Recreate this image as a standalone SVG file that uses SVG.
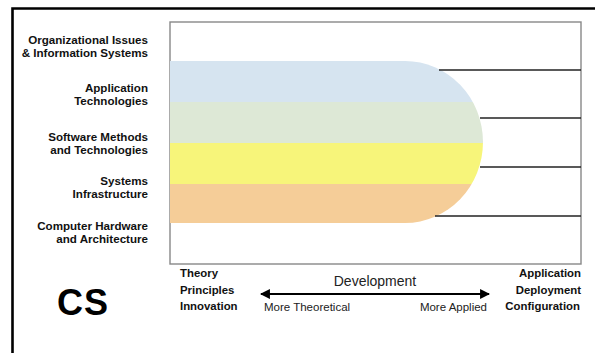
<svg xmlns="http://www.w3.org/2000/svg" width="595" height="353" viewBox="0 0 595 353">
<style>
.lbl{font-family:"Liberation Sans",Arial,sans-serif;font-weight:bold;font-size:11.6px;fill:#111;}
.bl{font-family:"Liberation Sans",Arial,sans-serif;font-weight:bold;font-size:11.4px;fill:#111;}
.reg{font-family:"Liberation Sans",Arial,sans-serif;fill:#222;}
.tick{stroke:#222;stroke-width:1.3;fill:none;}
</style>
<defs>
<clipPath id="cap"><path d="M170,61 H405 A78,81 0 0 1 405,223 H170 Z"/></clipPath>
<marker id="ah" viewBox="0 0 10 10" refX="9" refY="5" markerWidth="5" markerHeight="4.5" orient="auto-start-reverse" markerUnits="strokeWidth"><path d="M0,0 L10,5 L0,10 Z" fill="#000"/></marker>
</defs>
<rect x="0" y="0" width="595" height="353" fill="#fff"/>
<path d="M12.5,353 V8.5 H595" fill="none" stroke="#000" stroke-width="2.6"/>
<g id="chart">
<rect x="170" y="22" width="411" height="242" fill="none" stroke="#888" stroke-width="1.4"/>
<g clip-path="url(#cap)">
<rect x="168" y="60" width="330" height="42" fill="#d6e4f0"/>
<rect x="168" y="102" width="330" height="41" fill="#dde8d6"/>
<rect x="168" y="143" width="330" height="41" fill="#f7f57a"/>
<rect x="168" y="184" width="330" height="40" fill="#f5cd98"/>
</g>
<line class="tick" x1="439" y1="70" x2="581" y2="70"/>
<line class="tick" x1="480" y1="118" x2="581" y2="118"/>
<line class="tick" x1="480" y1="167" x2="581" y2="167"/>
<line class="tick" x1="435" y1="216" x2="581" y2="216"/>
</g>
<g id="layer-org" text-anchor="end"><text class="lbl" x="148" y="44">Organizational Issues</text><text class="lbl" x="148" y="57">&amp; Information Systems</text></g>
<g id="layer-app" text-anchor="end"><text class="lbl" x="148" y="92">Application</text><text class="lbl" x="148" y="105">Technologies</text></g>
<g id="layer-sw" text-anchor="end"><text class="lbl" x="148" y="141">Software Methods</text><text class="lbl" x="148" y="154">and Technologies</text></g>
<g id="layer-sys" text-anchor="end"><text class="lbl" x="148" y="185">Systems</text><text class="lbl" x="148" y="198">Infrastructure</text></g>
<g id="layer-hw" text-anchor="end"><text class="lbl" x="148" y="230">Computer Hardware</text><text class="lbl" x="148" y="243">and Architecture</text></g>
<g id="theory"><text class="bl" x="180" y="277">Theory</text><text class="bl" x="180" y="294">Principles</text><text class="bl" x="180" y="310">Innovation</text></g>
<g id="applied" text-anchor="end"><text class="bl" x="581" y="277">Application</text><text class="bl" x="581" y="294">Deployment</text><text class="bl" x="580" y="310">Configuration</text></g>
<g id="dev-labels"><text class="reg" x="375" y="286" font-size="14" text-anchor="middle">Development</text><text class="reg" x="264" y="311" font-size="11.5">More Theoretical</text><text class="reg" x="487" y="311" font-size="11.5" text-anchor="end">More Applied</text></g>
<g id="connectors"><line x1="261" y1="294" x2="489" y2="294" stroke="#000" stroke-width="2.2" marker-start="url(#ah)" marker-end="url(#ah)"/></g>
<g id="cs"><text x="83" y="315" font-family="Liberation Sans,Arial,sans-serif" font-weight="bold" font-size="36" letter-spacing="1" text-anchor="middle" fill="#000">CS</text></g>
</svg>
